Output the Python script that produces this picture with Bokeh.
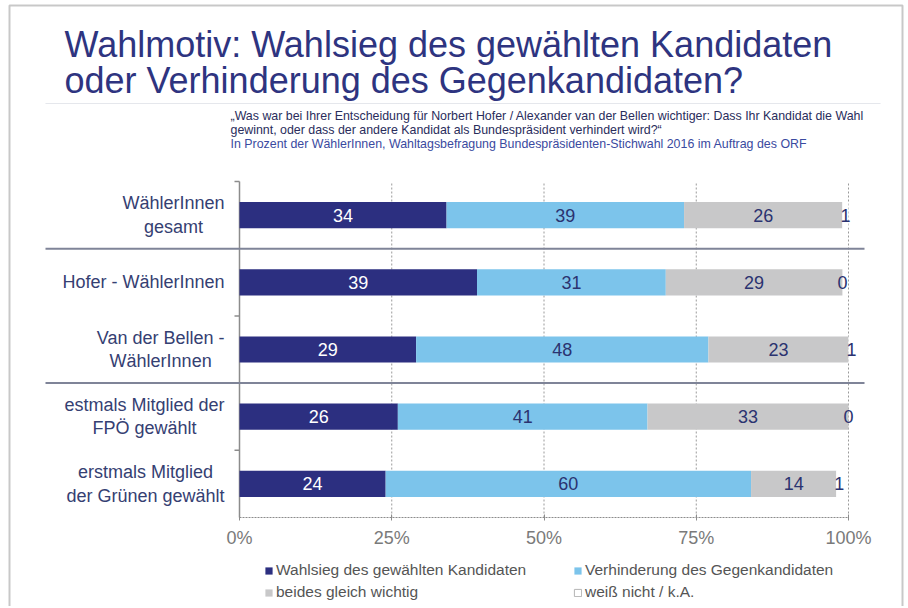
from bokeh.plotting import figure
from bokeh.models import (Range1d, FixedTicker, Label, Legend, LegendItem,
                          BoxAnnotation, ColumnDataSource)
from bokeh.core.properties import value
from bokeh.embed import file_html
from bokeh.resources import INLINE

# ---------------- data ----------------
categories = ["WählerInnen\ngesamt", "Hofer - WählerInnen", "Van der Bellen -\nWählerInnen",
              "estmals Mitglied der\nFPÖ gewählt", "erstmals Mitglied\nder Grünen gewählt"]
series_names = ["Wahlsieg des gewählten Kandidaten", "Verhinderung des Gegenkandidaten",
                "beides gleich wichtig", "weiß nicht / k.A."]
wahlsieg = [34, 39, 29, 26, 24]
verhinderung = [39, 31, 48, 41, 60]
beides = [26, 29, 23, 33, 14]
weiss_nicht = [1, 0, 1, 0, 1]
group_breaks = [1, 3]            # separator after these many categories
tick_values = [0, 25, 50, 75, 100]
tick_labels = ["0%", "25%", "50%", "75%", "100%"]
title_lines = ["Wahlmotiv: Wahlsieg des gewählten Kandidaten",
               "oder Verhinderung des Gegenkandidaten?"]
subtitle_lines = ["„Was war bei Ihrer Entscheidung für Norbert Hofer / Alexander van der Bellen wichtiger: Dass Ihr Kandidat die Wahl",
                  "gewinnt, oder dass der andere Kandidat als Bundespräsident verhindert wird?“",
                  "In Prozent der WählerInnen, Wahltagsbefragung Bundespräsidenten-Stichwahl 2016 im Auftrag des ORF"]

# ---------------- style / layout ----------------
FONT = "Liberation Sans"
C_DARK, C_LIGHT, C_GRAY, C_WHITE = "#2c2f80", "#7cc4eb", "#c8c8c9", "#ffffff"
C_TEXT = "#2b3370"
W, H = 906, 606
X0_PX, X100_PX = 239, 848          # px of 0 % and 100 %
BARS_TOP_PX, BARS_BOT_PX = 181, 517
px_per_pct = (X100_PX - X0_PX) / 100.0
x_start = -X0_PX / px_per_pct
x_end = (W - X0_PX) / px_per_pct

n = len(categories)
px_per_cat = (BARS_BOT_PX - BARS_TOP_PX) / n
y_start = -(H - BARS_BOT_PX) / px_per_cat
y_end = n + BARS_TOP_PX / px_per_cat
ypos = [n - 0.5 - i for i in range(n)]


def sy(page_y):
    """screen y (frame bottom = 0, upwards) for a pixel row measured from the top"""
    return H - page_y


p = figure(width=W, height=H, x_range=Range1d(x_start, x_end), y_range=Range1d(y_start, y_end),
           y_axis_location=None, output_backend="svg", toolbar_location=None,
           min_border=0, min_border_left=0, min_border_right=0, min_border_top=0,
           min_border_bottom=0)
p.outline_line_color = None
p.background_fill_color = "white"
p.border_fill_color = "white"
p.ygrid.visible = False
p.xgrid.visible = False

# x axis, drawn at the bottom of the bar area
ax = p.xaxis[0]
ax.fixed_location = 0
ax.ticker = FixedTicker(ticks=tick_values)
ax.major_label_overrides = {v: t for v, t in zip(tick_values, tick_labels)}
ax.bounds = (tick_values[0], tick_values[-1])
ax.axis_line_color = "#8c8c8c"
ax.axis_line_dash = "2 1"
ax.major_tick_line_color = "#8c8c8c"
ax.major_tick_in = 3
ax.major_tick_out = 3
ax.minor_tick_line_color = None
ax.major_label_text_font = FONT
ax.major_label_text_font_size = "18px"
ax.major_label_text_color = "#7a7a7a"
ax.major_label_standoff = 7

# dotted vertical gridlines, limited to the bar area
grid_ticks = tick_values[1:]
p.segment(x0=grid_ticks, x1=grid_ticks, y0=[0] * len(grid_ticks), y1=[n] * len(grid_ticks),
          line_color="#9a9a9a", line_dash="2 2", line_width=1)

# category axis line at 0 with outward ticks
p.segment(x0=[0], x1=[0], y0=[0], y1=[n], line_color="#8c8c8c", line_width=1.5)
tick_len = 5 / px_per_pct
tick_y = list(range(n, -1, -2))
p.segment(x0=[-tick_len] * len(tick_y), x1=[0] * len(tick_y), y0=tick_y, y1=tick_y,
          line_color="#8c8c8c", line_width=1.5)

# bars
src = ColumnDataSource(dict(y=ypos, wahlsieg=wahlsieg, verhinderung=verhinderung,
                            beides=beides, weiss_nicht=weiss_nicht))
stackers = ["wahlsieg", "verhinderung", "beides", "weiss_nicht"]
colors = [C_DARK, C_LIGHT, C_GRAY, C_WHITE]
rends = p.hbar_stack(stackers, y="y", height=0.39, color=colors, line_color=None, source=src)

# value labels
series = [wahlsieg, verhinderung, beides, weiss_nicht]
text_colors = ["white", C_TEXT, C_TEXT, C_TEXT]
start = [0] * n
for vals, tc in zip(series, text_colors):
    centers = [s + v / 2 for s, v in zip(start, vals)]
    p.text(x=centers, y=ypos, text=[str(v) for v in vals], text_align="center",
           text_baseline="middle", text_font=value(FONT), text_font_size="18px",
           text_color=tc)
    last_start = start
    start = [s + v for s, v in zip(start, vals)]

# category labels
p.text(x=[0] * n, y=ypos, text=categories, x_offset=-15, anchor=value("center_right"),
       text_align="center", text_baseline="middle", text_font=value(FONT),
       text_font_size="18px", text_color="#354072", text_line_height=1.18)

# group separators
sep_x0 = (45 - X0_PX) / px_per_pct
sep_x1 = (864 - X0_PX) / px_per_pct
sep_y = [n - b for b in group_breaks]
p.segment(x0=[sep_x0] * len(sep_y), x1=[sep_x1] * len(sep_y), y0=sep_y, y1=sep_y,
          line_color="#7f8498", line_width=2)

# legend (two columns under the axis); outlined white swatch for "weiß nicht"
swatch = p.hbar(y=ypos, left=last_start, right=start, height=0.39, fill_color="white",
                line_color="#b5b5b5", line_width=1, visible=False)
leg_kw = dict(label_text_font=FONT, label_text_font_size="15.5px", label_text_color="#555555",
              label_height=20, glyph_height=9, glyph_width=9, label_standoff=3, spacing=2,
              padding=0, margin=0, border_line_alpha=0, background_fill_alpha=0,
              inactive_fill_alpha=0)
leg1 = Legend(items=[LegendItem(label=series_names[0], renderers=[rends[0]]),
                     LegendItem(label=series_names[2], renderers=[rends[2]])],
              location=(264, sy(602)), **leg_kw)
leg2 = Legend(items=[LegendItem(label=series_names[1], renderers=[rends[1]]),
                     LegendItem(label=series_names[3], renderers=[swatch])],
              location=(573, sy(602)), **leg_kw)
p.add_layout(leg1)
p.add_layout(leg2)

# titles
for t, ybase in zip(title_lines, [44, 80]):
    p.add_layout(Label(x=64, y=sy(ybase), x_units="screen", y_units="screen",
                       text=t, text_font=FONT, text_font_size="36px", text_color="#2e3480",
                       text_baseline="alphabetic"))
sub_colors = ["#2a2d5c", "#2a2d5c", "#3a4aa0"]
for t, ytop, c in zip(subtitle_lines, [108, 122, 136], sub_colors):
    p.add_layout(Label(x=230, y=sy(ytop), x_units="screen", y_units="screen",
                       text=t, text_font=FONT, text_font_size="12.4px", text_color=c,
                       text_baseline="top"))

# dotted rule under title
p.add_layout(BoxAnnotation(left=45, right=880, top=sy(103), bottom=sy(103),
                           left_units="screen", right_units="screen",
                           top_units="screen", bottom_units="screen",
                           fill_alpha=0, line_color="#a0a4b8", line_dash="1 1", line_width=1))
# slide frame
p.add_layout(BoxAnnotation(left=9, right=902, top=sy(5), bottom=-20,
                           left_units="screen", right_units="screen",
                           top_units="screen", bottom_units="screen",
                           fill_alpha=0, line_color="#4a4a4a", line_width=2))

open("out.html", "w").write(file_html(p, INLINE))
